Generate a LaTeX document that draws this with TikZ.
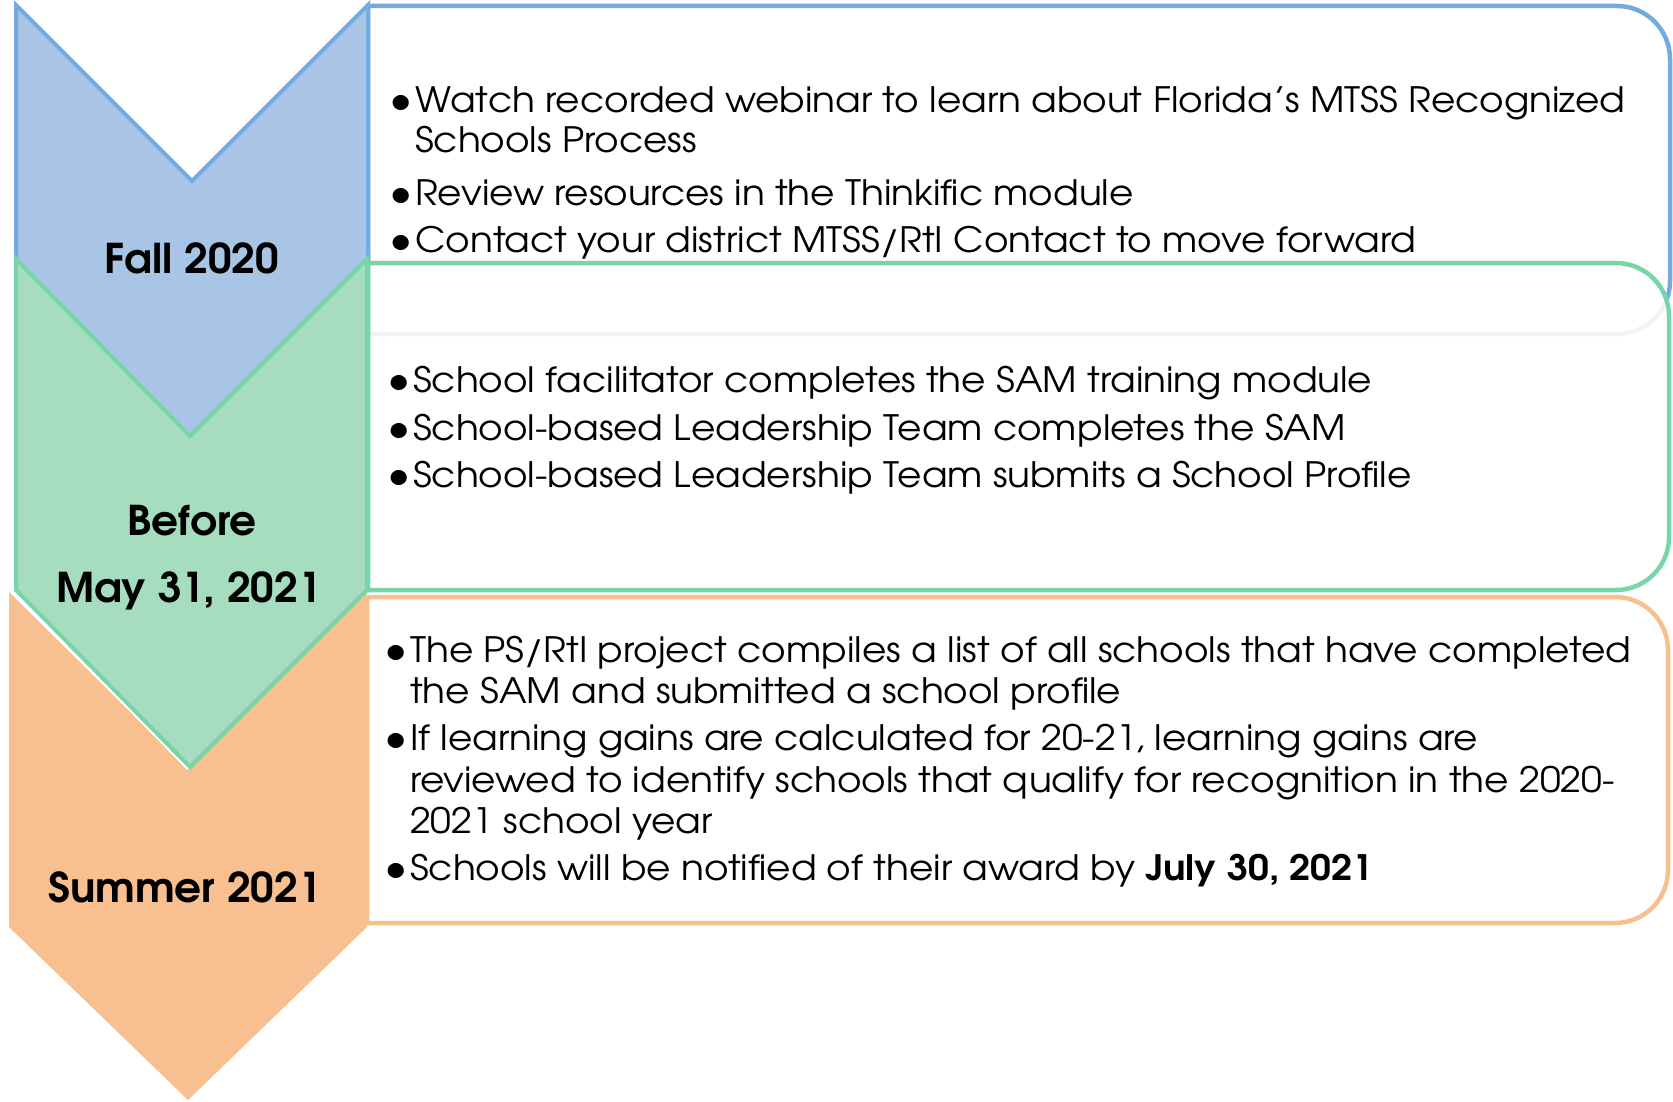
\documentclass[tikz,border=0pt]{standalone}
\usepackage{fontspec}
\setmainfont{TeX Gyre Adventor}[FakeStretch=1.07]
\newfontfamily\lblfont{TeX Gyre Adventor}[FakeStretch=1.03]
\definecolor{bluefill}{HTML}{A9C5E5}
\definecolor{bluestroke}{HTML}{74AADE}
\definecolor{greenfill}{HTML}{A5DDBE}
\definecolor{greenstroke}{HTML}{77D5A8}
\definecolor{orangefill}{HTML}{F8C090}
\definecolor{orangestroke}{HTML}{F7BF8C}
\tikzset{
  chev/.style={line width=4pt, line join=miter},
  boxline/.style={line width=4.5pt},
  txt/.style={anchor=base west, inner sep=0pt, font=\fontsize{35}{40}\selectfont},
  bul/.style={anchor=base west, inner sep=0pt, font=\fontsize{42}{40}\selectfont},
  lbl/.style={anchor=base, inner sep=0pt, font=\lblfont\fontsize{41}{46}\selectfont\bfseries},
}
\begin{document}
\begin{tikzpicture}[x=1pt,y=-1pt]
\useasboundingbox (0,0) rectangle (1673,1102);
% blue box
\draw[boxline, bluestroke, fill=white] (368,6) -- (1617,6) arc[start angle=-90,end angle=0,radius=53] -- (1670,281) arc[start angle=0,end angle=90,radius=53] -- (368,334) -- cycle;
% blue chevron
\draw[chev, bluestroke, fill=bluefill] (16,5) -- (192,181) -- (368,5) -- (368,263) -- (192,440) -- (16,263) -- cycle;
% green box
\draw[boxline, greenstroke, fill=white, fill opacity=0.88] (368,263) -- (1616,263) arc[start angle=-90,end angle=0,radius=53] -- (1669,537) arc[start angle=0,end angle=90,radius=53] -- (368,590) -- cycle;
% orange box
\draw[boxline, orangestroke, fill=white] (367,597) -- (1615,597) arc[start angle=-90,end angle=0,radius=53] -- (1668,870) arc[start angle=0,end angle=90,radius=53] -- (367,923) -- cycle;
% orange chevron
\fill[orangefill] (9,592) -- (188,769) -- (367,592) -- (367,927) -- (188,1100) -- (9,927) -- cycle;
% green chevron
\draw[line width=8pt, white] (16,590) -- (190,767);
\draw[chev, greenstroke, fill=greenfill] (16,259) -- (190,436) -- (367,259) -- (367,590) -- (190,767) -- (16,590) -- cycle;
% labels
\node[lbl] (l1) at (192,273) {Fall 2020};
\node[lbl] (l2a) at (192,535) {Before};
\node[lbl] (l2b) at (189,602) {May 31, 2021};
\node[lbl] (l3) at (185,902) {Summer 2021};
% blue texts
\node[bul] (b1) at (389,114) {•};
\node[txt] (t1a) at (415,113) {Watch recorded webinar to learn about Florida’s MTSS Recognized};
\node[txt] (t1b) at (415,153) {Schools Process};
\node[bul] (b2) at (389,207) {•};
\node[txt] (t2) at (415,206) {Review resources in the Thinkific module};
\node[bul] (b3) at (389,253) {•};
\node[txt] (t3) at (415,252) {Contact your district MTSS/RtI Contact to move forward};
% green texts
\node[bul] (b4) at (387,393) {•};
\node[txt] (t4) at (413,392) {School facilitator completes the SAM training module};
\node[bul] (b5) at (387,441) {•};
\node[txt] (t5) at (413,440) {School-based Leadership Team completes the SAM};
\node[bul] (b6) at (387,488) {•};
\node[txt] (t6) at (413,487) {School-based Leadership Team submits a School Profile};
% orange texts
\node[bul] (b7) at (384,663) {•};
\node[txt] (t7a) at (410,662) {The PS/RtI project compiles a list of all schools that have completed};
\node[txt] (t7b) at (410,703) {the SAM and submitted a school profile};
\node[bul] (b8) at (384,751) {•};
\node[txt] (t8a) at (410,750) {If learning gains are calculated for 20-21, learning gains are};
\node[txt] (t8b) at (410,792) {reviewed to identify schools that qualify for recognition in the 2020-};
\node[txt] (t8c) at (410,833) {2021 school year};
\node[bul] (b9) at (384,881) {•};
\node[txt] (t9) at (410,880) {Schools will be notified of their award by \textbf{July 30, 2021}};
\end{tikzpicture}
\end{document}
